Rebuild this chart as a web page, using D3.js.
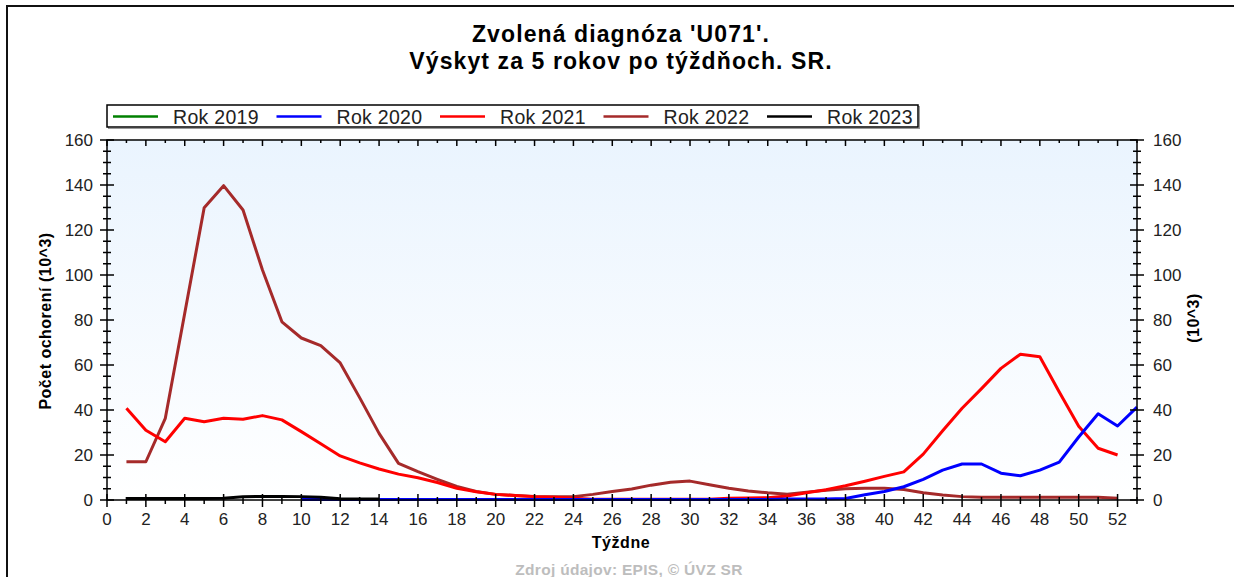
<!DOCTYPE html>
<html>
<head>
<meta charset="utf-8">
<script src="https://cdn.jsdelivr.net/npm/d3@7"></script>
<style>
  html, body { margin: 0; padding: 0; background: #fff; }
  svg { display: block; font-family: "Liberation Sans", Arial, sans-serif; }
</style>
</head>
<body>
<svg id="chart" width="1234" height="577"></svg>
<script>
// weekly counts in thousands (10^3)
const years = ["Rok 2019", "Rok 2020", "Rok 2021", "Rok 2022", "Rok 2023"];
const colors = ["#008000", "#0000ff", "#ff0000", "#a52a2a", "#000000"];

const weeks2019 = [];
const vals2019 = [];

const weeks2020 = d3.range(10, 54);
const vals2020 = [0.2, 0.2, 0.2, 0.2, 0.2, 0.2, 0.2, 0.2, 0.2, 0.2,
  0.2, 0.2, 0.2, 0.2, 0.2, 0.2, 0.2, 0.2, 0.2, 0.2,
  0.2, 0.2, 0.2, 0.2, 0.2, 0.4, 0.5, 0.5, 0.7, 2.3,
  3.8, 5.9, 9.2, 13.3, 16, 16, 11.9, 10.8, 13.3, 16.8,
  28, 38.3, 32.9, 41.3];

const weeks2021 = d3.range(1, 53);
const vals2021 = [40.8, 31, 25.9, 36.3, 34.8, 36.3, 35.9, 37.5, 35.6, 30.4,
  25, 19.6, 16.5, 13.8, 11.5, 9.9, 7.8, 5.2, 3.7, 2.5,
  2, 1.5, 1.2, 0.8, 0.3, 0.3, 0.3, 0.3, 0.3, 0.3,
  0.3, 0.8, 0.9, 1.0, 1.8, 3.2, 4.6, 6.3, 8.3, 10.5,
  12.5, 20.4, 30.8, 40.8, 49.5, 58.5, 64.8, 63.7, 48, 32.8,
  23, 20];

const weeks2022 = d3.range(1, 53);
const vals2022 = [17, 17, 36.3, 83, 129.9, 139.7, 128.9, 102.2, 79.2, 72,
  68.6, 60.9, 45.5, 29.6, 16.3, 12.6, 9.2, 6, 3.8, 2.5,
  2, 1.6, 1.4, 1.5, 2.5, 3.8, 4.9, 6.6, 7.9, 8.4,
  6.8, 5.2, 4, 3.2, 2.6, 3.5, 4.3, 5, 5.2, 5.2,
  4.7, 3.2, 2.2, 1.5, 1.2, 1.2, 1.2, 1.2, 1.2, 1.2,
  1.2, 0.8];

const weeks2023 = d3.range(1, 15);
const vals2023 = [0.7, 0.7, 0.7, 0.7, 0.7, 0.8, 1.4, 1.6, 1.6, 1.5,
  1.2, 0.6, 0.5, 0.4];

const xTicks = d3.range(0, 54);
const yTicks = d3.range(0, 161, 5);

const series = [
  { name: years[0], color: colors[0], weeks: weeks2019, vals: vals2019 },
  { name: years[3], color: colors[3], weeks: weeks2022, vals: vals2022 },
  { name: years[2], color: colors[2], weeks: weeks2021, vals: vals2021 },
  { name: years[1], color: colors[1], weeks: weeks2020, vals: vals2020 },
  { name: years[4], color: colors[4], weeks: weeks2023, vals: vals2023 }
];

const svg = d3.select("#chart");
const pLeft = 107, pRight = 1137, pTop = 140, pBottom = 500;

const x = d3.scaleLinear().domain([0, 53]).range([pLeft, pRight]);
const y = d3.scaleLinear().domain([0, 160]).range([pBottom, pTop]);

// outer frame (only top and left edge visible)
svg.append("path")
  .attr("d", "M7,577 L7,6 L1234,6")
  .attr("fill", "none").attr("stroke", "#111").attr("stroke-width", 2);

// title
const title = svg.append("text")
  .attr("text-anchor", "middle")
  .attr("font-weight", "bold")
  .attr("font-size", 23)
  .attr("letter-spacing", 1.1)
  .attr("fill", "#000");
title.append("tspan").attr("x", 621).attr("y", 42).text("Zvolená diagnóza 'U071'.");
title.append("tspan").attr("x", 621).attr("y", 69).text("Výskyt za 5 rokov po týždňoch. SR.");

// plot background
const grad = svg.append("defs").append("linearGradient")
  .attr("id", "bg").attr("x1", 0).attr("y1", 0).attr("x2", 0).attr("y2", 1);
grad.append("stop").attr("offset", "0%").attr("stop-color", "#eaf4fe");
grad.append("stop").attr("offset", "100%").attr("stop-color", "#ffffff");

svg.append("rect")
  .attr("x", pLeft).attr("y", pTop)
  .attr("width", pRight - pLeft).attr("height", pBottom - pTop)
  .attr("fill", "url(#bg)");

// lines
const line = d3.line()
  .x(d => x(d[0]))
  .y(d => y(d[1]));

series.forEach(s => {
  if (!s.vals.length) return;
  svg.append("path")
    .datum(s.weeks.map((w, i) => [w, s.vals[i]]))
    .attr("d", line)
    .attr("fill", "none")
    .attr("stroke", s.color)
    .attr("stroke-width", 3)
    .attr("stroke-linejoin", "round");
});

// axes frame
svg.append("rect")
  .attr("x", pLeft).attr("y", pTop)
  .attr("width", pRight - pLeft).attr("height", pBottom - pTop)
  .attr("fill", "none").attr("stroke", "#000").attr("stroke-width", 1.5);

const tickG = svg.append("g").attr("stroke", "#000").attr("stroke-width", 1.5);

// bottom + top ticks
xTicks.forEach(w => {
  const major = w % 2 === 0;
  tickG.append("line")
    .attr("x1", x(w)).attr("x2", x(w))
    .attr("y1", pBottom - (major ? 6 : 3)).attr("y2", pBottom + (major ? 7 : 4));
  tickG.append("line")
    .attr("x1", x(w)).attr("x2", x(w))
    .attr("y1", pTop).attr("y2", pTop + (major ? 6 : 3));
});

// left + right ticks
yTicks.forEach(v => {
  const major = v % 20 === 0;
  const h = major ? 7 : 4;
  tickG.append("line")
    .attr("x1", pLeft - h).attr("x2", pLeft + h)
    .attr("y1", y(v)).attr("y2", y(v));
  tickG.append("line")
    .attr("x1", pRight - h).attr("x2", pRight + h)
    .attr("y1", y(v)).attr("y2", y(v));
});

const labelColor = "#222";

svg.append("g").selectAll("text")
  .data(xTicks.filter(w => w % 2 === 0))
  .join("text")
  .attr("x", d => x(d)).attr("y", 525)
  .attr("text-anchor", "middle")
  .attr("font-size", 17).attr("fill", labelColor)
  .text(d => d);

svg.append("g").selectAll("text")
  .data(yTicks.filter(v => v % 20 === 0))
  .join("text")
  .attr("x", 93).attr("y", d => y(d) + 6)
  .attr("text-anchor", "end")
  .attr("font-size", 17).attr("fill", labelColor)
  .text(d => d);

svg.append("g").selectAll("text")
  .data(yTicks.filter(v => v % 20 === 0))
  .join("text")
  .attr("x", 1153).attr("y", d => y(d) + 6)
  .attr("text-anchor", "start")
  .attr("font-size", 17).attr("fill", labelColor)
  .text(d => d);

// axis titles
svg.append("text")
  .attr("transform", "translate(51,321) rotate(-90)")
  .attr("text-anchor", "middle")
  .attr("font-weight", "bold").attr("font-size", 16)
  .attr("letter-spacing", 0.5)
  .text("Počet ochorení (10^3)");

svg.append("text")
  .attr("transform", "translate(1199,318) rotate(-90)")
  .attr("text-anchor", "middle")
  .attr("font-weight", "bold").attr("font-size", 16)
  .attr("letter-spacing", 0.5)
  .text("(10^3)");

svg.append("text")
  .attr("x", 621).attr("y", 548)
  .attr("text-anchor", "middle")
  .attr("font-weight", "bold").attr("font-size", 16)
  .attr("letter-spacing", 0.6)
  .text("Týždne");

svg.append("text")
  .attr("x", 629).attr("y", 575)
  .attr("text-anchor", "middle")
  .attr("font-weight", "bold").attr("font-size", 15.5)
  .attr("letter-spacing", 0.3)
  .attr("fill", "#bdbdbd")
  .text("Zdroj údajov: EPIS, © ÚVZ SR");

// legend
const legend = svg.append("g");
legend.append("rect")
  .attr("x", 108.5).attr("y", 106.5).attr("width", 811).attr("height", 22)
  .attr("fill", "none").attr("stroke", "#999").attr("stroke-width", 1);
legend.append("rect")
  .attr("x", 107).attr("y", 105).attr("width", 811).attr("height", 22)
  .attr("fill", "#fff").attr("stroke", "#000").attr("stroke-width", 1.5);

const legX = d3.scalePoint().domain(years).range([113, 767]);
years.forEach((name, i) => {
  const lx = legX(name);
  legend.append("line")
    .attr("x1", lx).attr("x2", lx + 45)
    .attr("y1", 116.5).attr("y2", 116.5)
    .attr("stroke", colors[i]).attr("stroke-width", 2.5);
  legend.append("text")
    .attr("x", lx + 60).attr("y", 123.5)
    .attr("font-size", 19.5).attr("letter-spacing", 0.3).attr("fill", "#222")
    .text(name);
});
</script>
</body>
</html>
